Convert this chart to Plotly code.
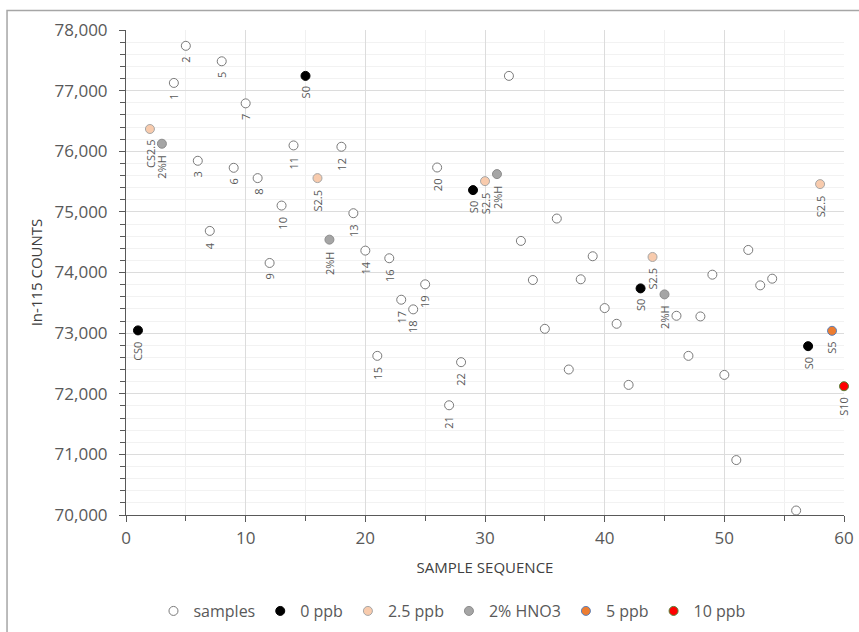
import plotly.graph_objects as go

# Sample sequence positions and In-115 counts for each group
samples_seq = [4, 5, 6, 7, 8, 9, 10, 11, 12, 13, 14,
               18, 19, 20, 21, 22, 23, 24, 25, 26, 27, 28,
               32, 33, 34, 35, 36, 37, 38, 39, 40, 41, 42,
               46, 47, 48, 49, 50, 51, 52, 53, 54, 56]
samples_counts = [77127, 77739, 75843, 74686, 77484, 75727, 76790, 75557, 74157, 75104, 76096,
                  76074, 74978, 74361, 72625, 74235, 73551, 73392, 73805, 75732, 71810, 72521,
                  77243, 74521, 73876, 73071, 74890, 72400, 73888, 74268, 73413, 73154, 72146,
                  73286, 72625, 73275, 73964, 72311, 70906, 74372, 73788, 73898, 70074]
samples_labels = [str(i) for i in range(1, 23)] + [""] * 21

zero_seq = [1, 15, 29, 43, 57]
zero_counts = [73045, 77243, 75359, 73738, 72785]
zero_labels = ["CS0", "S0", "S0", "S0", "S0"]

p25_seq = [2, 16, 30, 44, 58]
p25_counts = [76367, 75557, 75507, 74256, 75458]
p25_labels = ["CS2.5", "S2.5", "S2.5", "S2.5", "S2.5"]

hno3_seq = [3, 17, 31, 45]
hno3_counts = [76124, 74542, 75623, 73639]
hno3_labels = ["2%H", "2%H", "2%H", "2%H"]

p5_seq = [59]
p5_counts = [73038]
p5_labels = ["S5"]

p10_seq = [60]
p10_counts = [72124]
p10_labels = ["S10"]

series = [
    ("samples", samples_seq, samples_counts, samples_labels, "#ffffff", "#7a7a7a"),
    ("0 ppb", zero_seq, zero_counts, zero_labels, "#000000", "#000000"),
    ("2.5 ppb", p25_seq, p25_counts, p25_labels, "#f8cbad", "#a6a6a6"),
    ("2% HNO3", hno3_seq, hno3_counts, hno3_labels, "#a5a5a5", "#8c8c8c"),
    ("5 ppb", p5_seq, p5_counts, p5_labels, "#ed7d31", "#5b7fb8"),
    ("10 ppb", p10_seq, p10_counts, p10_labels, "#ff0000", "#548235"),
]

FONT = "Open Sans, Noto Sans, sans-serif"
TXT = "#595959"

fig = go.Figure()
annotations = []
for name, xs, ys, labels, fill, edge in series:
    fig.add_trace(go.Scatter(
        x=xs, y=ys, mode="markers", name=name, cliponaxis=False,
        marker=dict(size=9, color=fill, line=dict(color=edge, width=1)),
    ))
    for xv, yv, lab in zip(xs, ys, labels):
        if lab:
            annotations.append(dict(
                x=xv, y=yv, xref="x", yref="y", text=lab, showarrow=False,
                textangle=-90, xanchor="center", yanchor="top", yshift=-9,
                font=dict(family=FONT, size=11, color=TXT),
            ))

axis_common = dict(
    showline=True, linecolor="#595959", linewidth=1,
    ticks="outside", ticklen=6, tickcolor="#595959",
    showgrid=True, gridcolor="#dcdcdc", gridwidth=1,
    zeroline=False, automargin=False,
    tickfont=dict(family=FONT, size=17, color=TXT),
)

fig.update_xaxes(
    range=[0, 60], dtick=10, tick0=0, ticklabelstandoff=2,
    minor=dict(dtick=5, showgrid=True, gridcolor="#f0f0f0", ticks="outside",
               ticklen=5, tickcolor="#595959"),
    title=dict(text="SAMPLE SEQUENCE", font=dict(family=FONT, size=15, color="#404040"), standoff=14),
    **axis_common,
)
fig.update_yaxes(
    range=[70000, 78000], dtick=1000, tick0=70000, tickformat=",d", ticklabelstandoff=8,
    minor=dict(dtick=200, showgrid=True, gridcolor="#f2f2f2", ticks="outside",
               ticklen=5, tickcolor="#595959"),
    title=dict(text="In-115 COUNTS", font=dict(family=FONT, size=15, color="#404040"), standoff=8),
    **axis_common,
)

# Chart frame (top and left edges are visible inside the page)
fig.add_shape(type="rect", xref="paper", yref="paper",
              x0=-0.1657, y0=-0.5, x1=1.2, y1=1.0402,
              line=dict(color="#a6a6a6", width=1.5), layer="below")

fig.update_layout(
    width=859, height=632,
    margin=dict(l=126, r=15, t=30, b=117, autoexpand=False),
    paper_bgcolor="#ffffff", plot_bgcolor="#ffffff",
    font=dict(family=FONT, color=TXT),
    showlegend=True,
    legend=dict(orientation="h", x=0.454, xanchor="center", y=-0.198, yanchor="middle",
                font=dict(family=FONT, size=16, color=TXT), itemwidth=30,
                bgcolor="rgba(0,0,0,0)"),
    annotations=annotations,
)

fig.write_html("out.html")
